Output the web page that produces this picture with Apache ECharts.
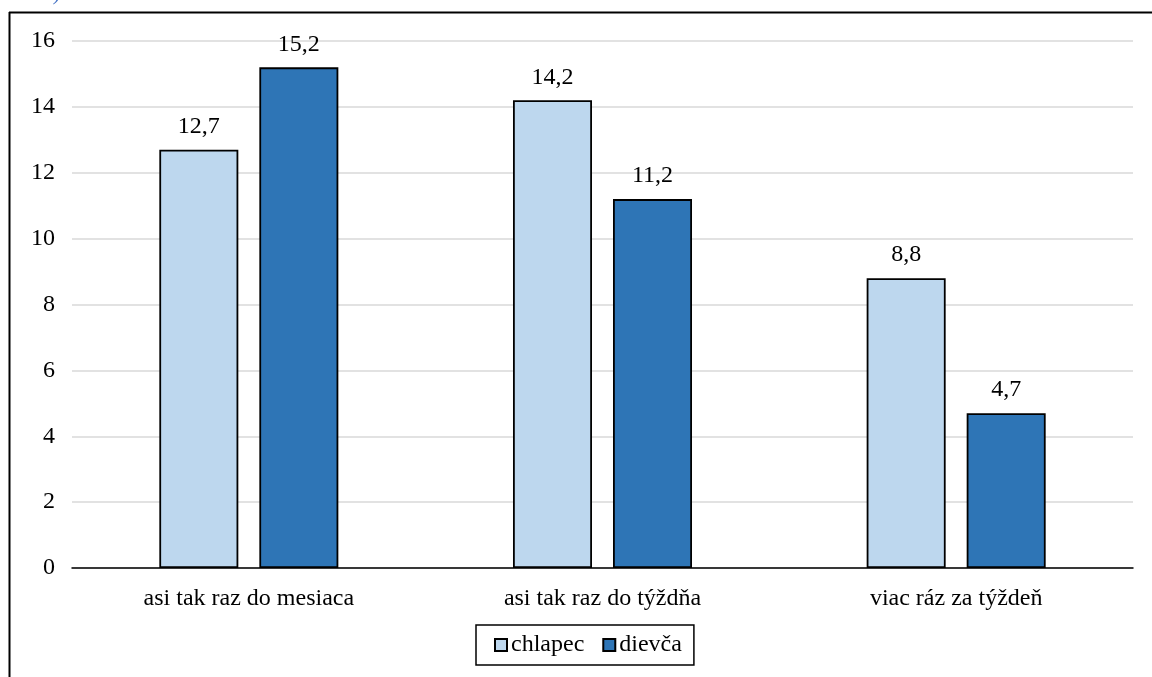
<!DOCTYPE html>
<html><head><meta charset="utf-8">
<script src="https://cdn.jsdelivr.net/npm/echarts@6/dist/echarts.min.js"></script>
<style>html,body{margin:0;padding:0;background:#fff}#c{width:1152px;height:677px}</style>
</head><body><div id="c"></div>
<script>
const categories = ['asi tak raz do mesiaca', 'asi tak raz do týždňa', 'viac ráz za týždeň'];
const seriesNames = ['chlapec', 'dievča'];
const chlapec = [12.7, 14.2, 8.8];
const dievca = [15.2, 11.2, 4.7];
const yTicks = [0, 2, 4, 6, 8, 10, 12, 14, 16];

const font = '"Liberation Serif", "Times New Roman", serif';
const FS = 24;
const chart = echarts.init(document.getElementById('c'));
const fmt = p => String(p.value).replace('.', ',');
chart.setOption({
  animation: false,
  textStyle: { fontFamily: font },
  grid: { left: 72, right: 19, top: 41, bottom: 109, containLabel: false },
  legend: {
    data: seriesNames, top: 625, left: 476,
    itemWidth: 12, itemHeight: 12, itemGap: 18,
    padding: [8, 12, 8, 18],
    borderColor: '#000', borderWidth: 1.5,
    textStyle: { fontFamily: font, fontSize: FS, color: '#000', padding: [0, 0, 0, -1] },
    icon: 'rect'
  },
  xAxis: {
    type: 'category', data: categories,
    axisLine: { lineStyle: { color: '#000', width: 1.5 } },
    axisTick: { show: false },
    axisLabel: { fontFamily: font, fontSize: FS, color: '#000', margin: 19 }
  },
  yAxis: {
    type: 'value', min: 0, max: 16, interval: 2,
    axisLine: { show: false }, axisTick: { show: false },
    axisLabel: { fontFamily: font, fontSize: FS, color: '#000', margin: 17,
      formatter: v => yTicks.includes(v) ? String(v) : '' },
    splitLine: { lineStyle: { color: '#d9d9d9', width: 1.5 } }
  },
  series: [
    { name: seriesNames[0], type: 'bar', data: chlapec, barWidth: 79, barGap: '26.6%',
      itemStyle: { color: '#BDD7EE', borderColor: '#000', borderWidth: 1.8 },
      label: { show: true, position: 'top', distance: 11, fontFamily: font, fontSize: FS, color: '#000', formatter: fmt } },
    { name: seriesNames[1], type: 'bar', data: dievca, barWidth: 79,
      itemStyle: { color: '#2E75B6', borderColor: '#000', borderWidth: 1.8 },
      label: { show: true, position: 'top', distance: 11, fontFamily: font, fontSize: FS, color: '#000', formatter: fmt } }
  ],
  graphic: [
    { type: 'line', shape: { x1: 9.5, y1: 12, x2: 9.5, y2: 700 }, style: { stroke: '#000', lineWidth: 2 }, silent: true },
    { type: 'line', shape: { x1: 9, y1: 12.5, x2: 1200, y2: 12.5 }, style: { stroke: '#000', lineWidth: 2 }, silent: true },
    { type: 'text', left: 54, top: -15, style: { text: ')', font: 'italic 20px ' + font, fill: '#4472C4' }, silent: true }
  ]
});
</script></body></html>
